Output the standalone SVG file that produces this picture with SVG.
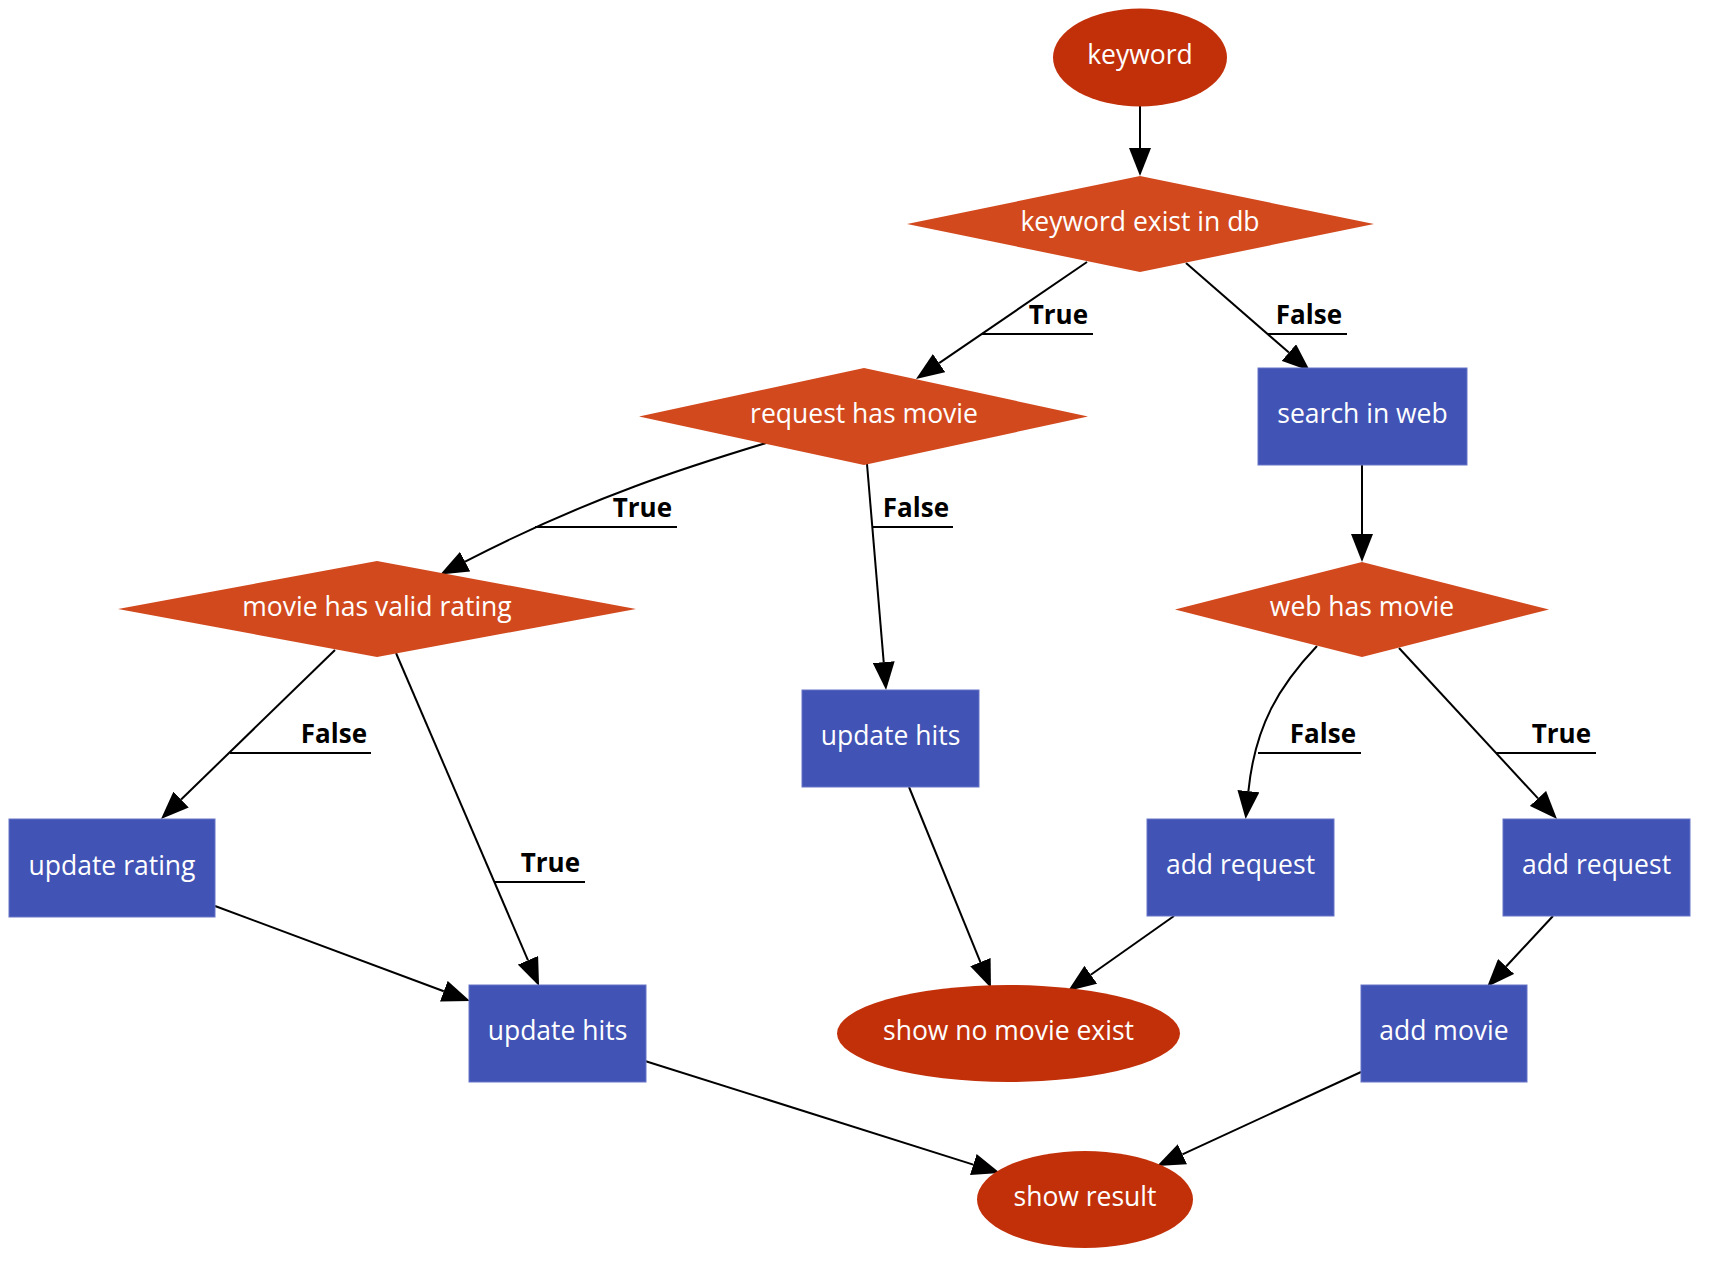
<svg xmlns="http://www.w3.org/2000/svg" width="1714" height="1272" viewBox="0 0 1714 1272">
<style>
.ell{fill:#C2300A;}
.dia{fill:#D2491E;}
.box{fill:#4153B5;stroke:#6674C6;stroke-width:1;}
.nt{font-family:"Open Sans","Noto Sans","Liberation Sans",sans-serif;font-size:26.5px;fill:#ffffff;text-anchor:middle;}
.lbl{font-family:"Open Sans","Noto Sans","Liberation Sans",sans-serif;font-size:26px;font-weight:bold;fill:#000000;text-anchor:end;}
.edge{fill:none;stroke:#000000;stroke-width:2;}
.ul{fill:none;stroke:#000000;stroke-width:2;}
</style>
<defs>
<marker id="arr" markerUnits="userSpaceOnUse" viewBox="0 0 28 22" markerWidth="28" markerHeight="22" refX="0" refY="11" orient="auto">
<path d="M0,0 L28,11 L0,22 z" fill="#000000"/>
</marker>
</defs>
<rect width="1714" height="1272" fill="#ffffff"/>

<g id="connectors">
<path class="edge" marker-end="url(#arr)" d="M1140,106 L1140,148"/>
<path class="edge" marker-end="url(#arr)" d="M1087,262 L939.1,363.2"/>
<path class="edge" marker-end="url(#arr)" d="M1186,263 L1288.9,352.6"/>
<path class="edge" marker-end="url(#arr)" d="M766,443 C690,466 590,497 465.1,561.6"/>
<path class="edge" marker-end="url(#arr)" d="M867,464 L883.7,662.1"/>
<path class="edge" marker-end="url(#arr)" d="M1362,465 L1362,534"/>
<path class="edge" marker-end="url(#arr)" d="M335,650 L181.1,799.5"/>
<path class="edge" marker-end="url(#arr)" d="M396,653 L528,960.3"/>
<path class="edge" marker-end="url(#arr)" d="M1317,646 C1280,685 1255,725 1248.4,791.2"/>
<path class="edge" marker-end="url(#arr)" d="M1399,648 L1538,798.4"/>
<path class="edge" marker-end="url(#arr)" d="M909,787 L980.4,962.1"/>
<path class="edge" marker-end="url(#arr)" d="M1174,916 L1090.8,974.8"/>
<path class="edge" marker-end="url(#arr)" d="M215,906 L443.8,991.2"/>
<path class="edge" marker-end="url(#arr)" d="M1553,916 L1506.1,966.5"/>
<path class="edge" marker-end="url(#arr)" d="M645,1061 L973.3,1164.6"/>
<path class="edge" marker-end="url(#arr)" d="M1361,1072 L1182.4,1154.3"/>

<path class="ul" d="M982,334 H1093"/>
<text class="lbl" x="1088" y="323.5">True</text>
<path class="ul" d="M1268,334 H1347"/>
<text class="lbl" x="1342" y="323.5">False</text>
<path class="ul" d="M535,527 H677"/>
<text class="lbl" x="672" y="516.5">True</text>
<path class="ul" d="M873,527 H953"/>
<text class="lbl" x="949" y="516.5">False</text>
<path class="ul" d="M230,753 H371"/>
<text class="lbl" x="367" y="742.5">False</text>
<path class="ul" d="M495,882 H585"/>
<text class="lbl" x="580" y="871.5">True</text>
<path class="ul" d="M1258,753 H1361"/>
<text class="lbl" x="1356" y="742.5">False</text>
<path class="ul" d="M1496,753 H1596"/>
<text class="lbl" x="1591" y="742.5">True</text>
</g>

<g id="keyword"><ellipse class="ell" cx="1140" cy="57.5" rx="87" ry="49"/><text class="nt" x="1140" y="64">keyword</text></g>
<g id="keyword_exist_in_db"><polygon class="dia" points="1140,176 1374,224 1140,272 907,224"/><text class="nt" x="1140" y="230.5">keyword exist in db</text></g>
<g id="request_has_movie"><polygon class="dia" points="864,368 1088,416.5 864,465 639,416.5"/><text class="nt" x="864" y="423">request has movie</text></g>
<g id="search_in_web"><rect class="box" x="1258" y="368" width="209" height="97"/><text class="nt" x="1362.5" y="423">search in web</text></g>
<g id="movie_has_valid_rating"><polygon class="dia" points="377,561 636,609 377,657 118,609"/><text class="nt" x="377" y="615.5">movie has valid rating</text></g>
<g id="web_has_movie"><polygon class="dia" points="1362,562 1549,609.5 1362,657 1175,609.5"/><text class="nt" x="1362" y="616">web has movie</text></g>
<g id="update_hits_mid"><rect class="box" x="802" y="690" width="177" height="97"/><text class="nt" x="890.5" y="745">update hits</text></g>
<g id="update_rating"><rect class="box" x="9" y="819" width="206" height="98"/><text class="nt" x="112" y="874.5">update rating</text></g>
<g id="add_request_1"><rect class="box" x="1147" y="819" width="187" height="97"/><text class="nt" x="1240.5" y="874">add request</text></g>
<g id="add_request_2"><rect class="box" x="1503" y="819" width="187" height="97"/><text class="nt" x="1596.5" y="874">add request</text></g>
<g id="update_hits_left"><rect class="box" x="469" y="985" width="177" height="97"/><text class="nt" x="557.5" y="1040">update hits</text></g>
<g id="show_no_movie_exist"><ellipse class="ell" cx="1008.5" cy="1033.5" rx="171.5" ry="48.5"/><text class="nt" x="1008.5" y="1040">show no movie exist</text></g>
<g id="add_movie"><rect class="box" x="1361" y="985" width="166" height="97"/><text class="nt" x="1444" y="1040">add movie</text></g>
<g id="show_result"><ellipse class="ell" cx="1085" cy="1199.5" rx="108" ry="48.5"/><text class="nt" x="1085" y="1206">show result</text></g>
</svg>
